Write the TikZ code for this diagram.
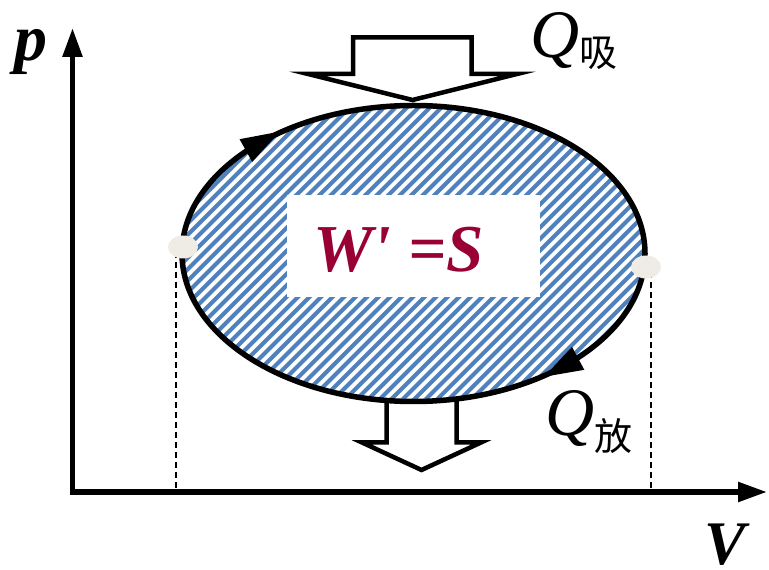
\documentclass[tikz,border=0pt]{standalone}
\usepackage{fontspec}
\newfontfamily\tnr{Liberation Serif}[Ligatures=TeXOff]
\newfontfamily\cjk{Noto Sans CJK SC}
\usetikzlibrary{arrows.meta,shapes.geometric}
\definecolor{hatchblue}{RGB}{79,129,189}
\definecolor{wine}{RGB}{153,0,51}
\definecolor{dotgray}{RGB}{238,236,228}
\begin{document}
\begin{tikzpicture}[x=1pt,y=1pt,
  axisline/.style={line width=5.5pt,{Triangle[length=29pt,width=19pt]}-{Triangle[length=29pt,width=19pt]}},
  hatch/.style={hatchblue,line width=4pt},
  outline/.style={line width=5.5pt},
  hollow/.style={draw=black,fill=white,line width=4.5pt,line join=miter},
  guide/.style={line width=1.5pt,dash pattern=on 6pt off 4pt},
  dotmark/.style={ellipse,fill=dotgray,minimum width=30pt,minimum height=23pt,inner sep=0pt},
  lbl/.style={inner sep=0pt,font=\tnr\bfseries\itshape\fontsize{66}{66}\selectfont},
  qlbl/.style={inner sep=0pt,font=\tnr\itshape\fontsize{68}{68}\selectfont},
  headtip/.style={fill=black}
]
\useasboundingbox (0,0) rectangle (769,570);
\coordinate (O) at (72.5,78);
\coordinate (ytip) at (72.5,542);
\coordinate (xtip) at (767,78);
\coordinate (c) at (413.5,316.5);
% hatched cycle area
\begin{scope}
  \clip (c) ellipse [x radius=231.5, y radius=148];
  \foreach \i in {-170,-158.5,...,670} \draw[hatch] (\i,150) -- ++(340,340);
\end{scope}
\node[fill=white,minimum width=253pt,minimum height=102pt,inner sep=0pt] (box) at (413.5,324) {};
\node[lbl,text=wine,anchor=base west,font=\tnr\bfseries\itshape\fontsize{67}{67}\selectfont] (work) at (313,298) {W' =S};
% heat arrows
\draw[hollow] (353,496) -- (353,532.5) -- (471.5,532.5) -- (471.5,496) -- (517,496) -- (412.5,470) -- (308,496) -- cycle;
\draw[hollow] (386.5,171) -- (386.5,127.5) -- (362,127.5) -- (421.5,100) -- (481,127.5) -- (456.5,127.5) -- (456.5,171);
% cycle outline
\draw[outline] (c) ellipse [x radius=231.5, y radius=148];
\begin{scope}[shift={(c)}]
  \fill[headtip,shift={(131:231.5 and 148)},rotate=29.1] (21,0) -- (-18,13) -- (-18,-13) -- cycle;
  \fill[headtip,shift={(-50:231.5 and 148)},rotate=208.2] (21,0) -- (-18,13) -- (-18,-13) -- cycle;
\end{scope}
% guides
\coordinate (gL1) at (176,318);
\coordinate (gL2) at (176,78);
\coordinate (gR1) at (651,298);
\coordinate (gR2) at (651,78);
\draw[guide] (gL1) -- (gL2);
\draw[guide] (gR1) -- (gR2);
\node[dotmark] (dotL) at (183,323) {};
\node[dotmark] (dotR) at (646,303) {};
% axes
\draw[axisline] (ytip) -- (O) -- (xtip);
% labels
\node[lbl,anchor=base] (plabel) at (31,509) {p};
\node[lbl,anchor=base,font=\tnr\bfseries\itshape\fontsize{62}{62}\selectfont] (vlabel) at (725,5) {V};
\node[qlbl,anchor=base west] (qin) at (530,512) {Q\raisebox{-9pt}{\normalfont\cjk\fontsize{38}{38}\selectfont 吸}};
\node[qlbl,anchor=base west] (qout) at (545,134) {Q\raisebox{-15pt}{\normalfont\cjk\fontsize{38}{38}\selectfont 放}};
\end{tikzpicture}
\end{document}
